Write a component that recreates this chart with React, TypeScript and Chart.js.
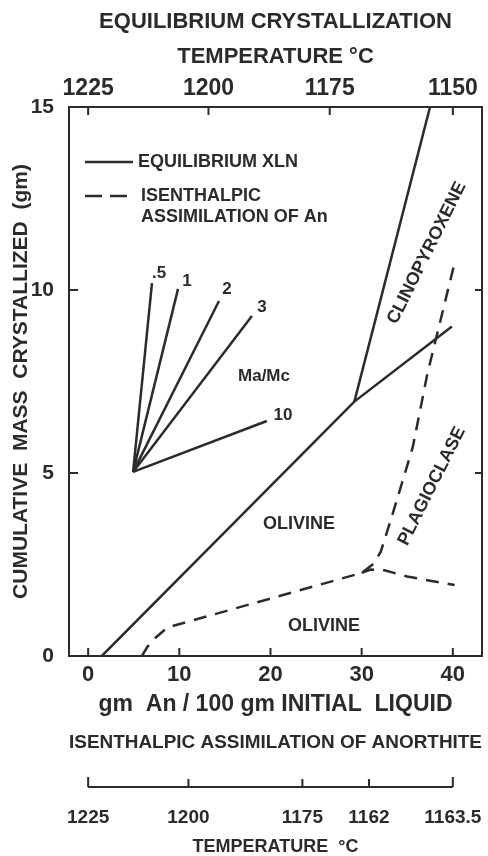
import React, { useEffect, useRef } from 'react';
import { Chart, registerables } from 'chart.js';

Chart.register(...registerables);

const FONT = '"Liberation Sans", Arial, Helvetica, sans-serif';
const INK = '#2b2b2b';

// ---- axis ranges & ticks ----
const X_MIN = -2.1;
const X_MAX = 43.2;
const Y_MIN = 0;
const Y_MAX = 15;
const xTicks = [0, 10, 20, 30, 40];
const yTicks = [0, 5, 10, 15];
const rightTicks = [5, 10];
const eqTempPos = [0, 13.2, 26.5, 40];
const eqTempLabels = ['1225', '1200', '1175', '1150'];
const isoTempPos = [0, 11, 23.5, 30.8, 40];
const isoTempLabels = ['1225', '1200', '1175', '1162', '1163.5'];

// ---- series ----
const equilibriumX = [1.5, 29.2, 39.9];
const equilibriumY = [0, 6.95, 9.0];
const cpxBoundaryX = [29.2, 37.5];
const cpxBoundaryY = [6.95, 15];
const isenthalpicX = [5.9, 6.5, 7.4, 8.7, 30.0, 31.3, 32.1, 33.3, 35.6, 37.2, 40.2];
const isenthalpicY = [0, 0.25, 0.5, 0.78, 2.27, 2.52, 2.85, 3.8, 5.7, 7.7, 10.75];
const isenthalpicBranchX = [30.0, 31.0, 32.5, 35.0, 40.2];
const isenthalpicBranchY = [2.27, 2.36, 2.34, 2.17, 1.94];

const fanOriginX = 4.93;
const fanOriginY = 5.03;
const fanRatios = ['.5', '1', '2', '3', '10'];
const fanEndX = [7.0, 9.86, 14.35, 17.96, 19.6];
const fanEndY = [10.19, 10.03, 9.7, 9.29, 6.42];
const fanLabelX = [7.78, 10.85, 15.23, 19.07, 21.37];
const fanLabelY = [10.46, 10.25, 10.03, 9.54, 6.58];

const regionLabels = ['CLINOPYROXENE', 'PLAGIOCLASE', 'OLIVINE', 'OLIVINE', 'Ma/Mc'];
const regionX = [37.15, 37.7, 23.12, 25.86, 19.29];
const regionY = [11.01, 4.64, 3.61, 0.82, 7.65];
const regionAngle = [-63.6, -63.4, 0, 0, 0];

const legendLabels = [['EQUILIBRIUM XLN'], ['ISENTHALPIC', 'ASSIMILATION OF An']];

const pts = (xs: number[], ys: number[]) => xs.map((x, i) => ({ x, y: ys[i] }));

const lineDs = (data: { x: number; y: number }[], dashed = false) => ({
  data,
  showLine: true,
  borderColor: INK,
  borderWidth: 2.5,
  borderDash: dashed ? [13, 9] : [],
  pointRadius: 0,
  fill: false,
  tension: 0,
  xAxisID: 'x',
  yAxisID: 'y',
});

const fixH = (h: number) => (s: any) => {
  s.height = h;
  s.paddingLeft = 0;
  s.paddingRight = 0;
};
const fixW = (w: number) => (s: any) => {
  s.width = w;
  s.paddingTop = 0;
  s.paddingBottom = 0;
};
const noGrid = { display: true, drawOnChartArea: false, drawTicks: false };
const f = (size: number, extra: any = {}) => ({ family: FONT, size, weight: 'bold', ...extra });

const decorPlugin = {
  id: 'decor',
  afterDraw(chart: any) {
    const ctx = chart.ctx;
    const x = chart.scales.x;
    const y = chart.scales.y;
    const ca = chart.chartArea;
    ctx.save();
    ctx.strokeStyle = INK;
    ctx.fillStyle = INK;
    ctx.lineWidth = 2;
    ctx.setLineDash([]);
    // inward tick marks
    ctx.beginPath();
    xTicks.forEach((v) => {
      const px = x.getPixelForValue(v);
      ctx.moveTo(px, ca.bottom);
      ctx.lineTo(px, ca.bottom - 8);
    });
    eqTempPos.forEach((v) => {
      const px = x.getPixelForValue(v);
      ctx.moveTo(px, ca.top);
      ctx.lineTo(px, ca.top + 8);
    });
    yTicks.forEach((v) => {
      const py = y.getPixelForValue(v);
      ctx.moveTo(ca.left, py);
      ctx.lineTo(ca.left + 9, py);
    });
    rightTicks.forEach((v) => {
      const py = y.getPixelForValue(v);
      ctx.moveTo(ca.right, py);
      ctx.lineTo(ca.right - 7, py);
    });
    ctx.stroke();

    // lower temperature bar
    const s3 = chart.scales.xIsoTemp;
    const yBar = s3.top + 27;
    ctx.beginPath();
    ctx.moveTo(s3.getPixelForValue(isoTempPos[0]), yBar);
    ctx.lineTo(s3.getPixelForValue(isoTempPos[isoTempPos.length - 1]), yBar);
    isoTempPos.forEach((v, i) => {
      const px = s3.getPixelForValue(v);
      const len = i === 0 || i === isoTempPos.length - 1 ? 10 : 8;
      ctx.moveTo(px, yBar);
      ctx.lineTo(px, yBar - len);
    });
    ctx.stroke();

    // legend
    ctx.lineWidth = 2.5;
    ctx.font = `bold 18px ${FONT}`;
    ctx.textBaseline = 'middle';
    ctx.textAlign = 'left';
    const L = ca.left;
    const T = ca.top;
    ctx.beginPath();
    ctx.moveTo(L + 16, T + 55);
    ctx.lineTo(L + 64, T + 55);
    ctx.stroke();
    legendLabels[0].forEach((t, i) => ctx.fillText(t, L + 69, T + 55 + i * 21));
    ctx.setLineDash([17, 8]);
    ctx.beginPath();
    ctx.moveTo(L + 16, T + 89);
    ctx.lineTo(L + 61, T + 89);
    ctx.stroke();
    ctx.setLineDash([]);
    legendLabels[1].forEach((t, i) => ctx.fillText(t, L + 72, T + 89 + i * 21));

    // fan labels
    ctx.textAlign = 'center';
    ctx.font = `bold 17px ${FONT}`;
    fanRatios.forEach((t, i) => {
      ctx.fillText(t, x.getPixelForValue(fanLabelX[i]), y.getPixelForValue(fanLabelY[i]));
    });

    // region labels
    regionLabels.forEach((t, i) => {
      ctx.save();
      ctx.translate(x.getPixelForValue(regionX[i]), y.getPixelForValue(regionY[i]));
      ctx.rotate((regionAngle[i] * Math.PI) / 180);
      ctx.font = `bold ${t === 'Ma/Mc' ? 17 : 18}px ${FONT}`;
      ctx.fillText(t, 0, 0);
      ctx.restore();
    });
    ctx.restore();
  },
};

export default function App() {
  const ref = useRef<HTMLCanvasElement>(null);

  useEffect(() => {
    if (!ref.current) return;
    const datasets: any[] = [
      lineDs(pts(equilibriumX, equilibriumY)),
      lineDs(pts(cpxBoundaryX, cpxBoundaryY)),
      lineDs(pts(isenthalpicX, isenthalpicY), true),
      lineDs(pts(isenthalpicBranchX, isenthalpicBranchY), true),
      ...fanEndX.map((ex, i) =>
        lineDs([
          { x: fanOriginX, y: fanOriginY },
          { x: ex, y: fanEndY[i] },
        ])
      ),
    ];

    const chart = new Chart(ref.current, {
      type: 'scatter',
      data: { datasets },
      plugins: [decorPlugin],
      options: {
        responsive: false,
        animation: false,
        devicePixelRatio: 1,
        layout: { padding: 0 },
        plugins: { legend: { display: false }, tooltip: { enabled: false } },
        scales: {
          x: {
            type: 'linear',
            position: 'bottom',
            weight: 0,
            min: X_MIN,
            max: X_MAX,
            afterBuildTicks: (s: any) => {
              s.ticks = xTicks.map((v) => ({ value: v }));
            },
            afterFit: fixH(69),
            grid: noGrid,
            border: { display: true, color: INK, width: 2 },
            ticks: {
              font: f(22),
              color: INK,
              padding: 5.8,
              autoSkip: false,
              maxRotation: 0,
              callback: (v: any) => String(v),
            },
            title: {
              display: true,
              text: 'gm  An / 100 gm INITIAL  LIQUID',
              font: f(23),
              color: INK,
              padding: { top: 0, bottom: 6.2 },
            },
          },
          xIso: {
            type: 'linear',
            position: 'bottom',
            weight: 1,
            min: X_MIN,
            max: X_MAX,
            afterFit: fixH(35),
            grid: { display: false, drawTicks: false },
            border: { display: false },
            ticks: { display: false },
            title: {
              display: true,
              text: 'ISENTHALPIC ASSIMILATION OF ANORTHITE',
              font: f(19),
              color: INK,
              padding: { top: 0, bottom: 6 },
            },
          },
          xIsoTemp: {
            type: 'linear',
            position: 'bottom',
            weight: 2,
            min: X_MIN,
            max: X_MAX,
            afterBuildTicks: (s: any) => {
              s.ticks = isoTempPos.map((v) => ({ value: v }));
            },
            afterFit: fixH(96),
            grid: { display: false, drawTicks: false },
            border: { display: false },
            ticks: {
              font: f(19),
              color: INK,
              padding: 46,
              autoSkip: false,
              maxRotation: 0,
              callback: (_v: any, i: number) => isoTempLabels[i],
            },
            title: {
              display: true,
              text: 'TEMPERATURE  °C',
              font: f(18, { lineHeight: 1 }),
              color: INK,
              padding: { top: 0, bottom: 0 },
            },
          },
          xTop: {
            type: 'linear',
            position: 'top',
            min: X_MIN,
            max: X_MAX,
            afterBuildTicks: (s: any) => {
              s.ticks = eqTempPos.map((v) => ({ value: v }));
            },
            afterFit: fixH(107),
            grid: noGrid,
            border: { display: true, color: INK, width: 2 },
            ticks: {
              font: f(23),
              color: INK,
              padding: 4.2,
              autoSkip: false,
              maxRotation: 0,
              callback: (_v: any, i: number) => eqTempLabels[i],
            },
            title: {
              display: true,
              text: ['EQUILIBRIUM CRYSTALLIZATION', 'TEMPERATURE °C'],
              font: f(22, { lineHeight: '35px' }),
              color: INK,
              padding: { top: 4.5, bottom: 0 },
            },
          },
          y: {
            type: 'linear',
            position: 'left',
            min: Y_MIN,
            max: Y_MAX,
            afterBuildTicks: (s: any) => {
              s.ticks = yTicks.map((v) => ({ value: v }));
            },
            afterFit: fixW(69),
            grid: noGrid,
            border: { display: true, color: INK, width: 2 },
            ticks: {
              font: f(21),
              color: INK,
              padding: 15,
              autoSkip: false,
              callback: (v: any) => String(v),
            },
            title: {
              display: true,
              text: 'CUMULATIVE  MASS  CRYSTALLIZED  (gm)',
              font: f(21),
              color: INK,
              padding: { top: 9, bottom: 0 },
            },
          },
          yRight: {
            type: 'linear',
            position: 'right',
            min: Y_MIN,
            max: Y_MAX,
            afterFit: fixW(6),
            grid: noGrid,
            border: { display: true, color: INK, width: 2 },
            ticks: { display: false },
          },
        },
      } as any,
    });
    return () => chart.destroy();
  }, []);

  return (
    <div style={{ position: 'absolute', left: 0, top: 0, width: 488, height: 856, background: '#fff' }}>
      <canvas ref={ref} width={488} height={856} style={{ display: 'block' }} />
    </div>
  );
}
